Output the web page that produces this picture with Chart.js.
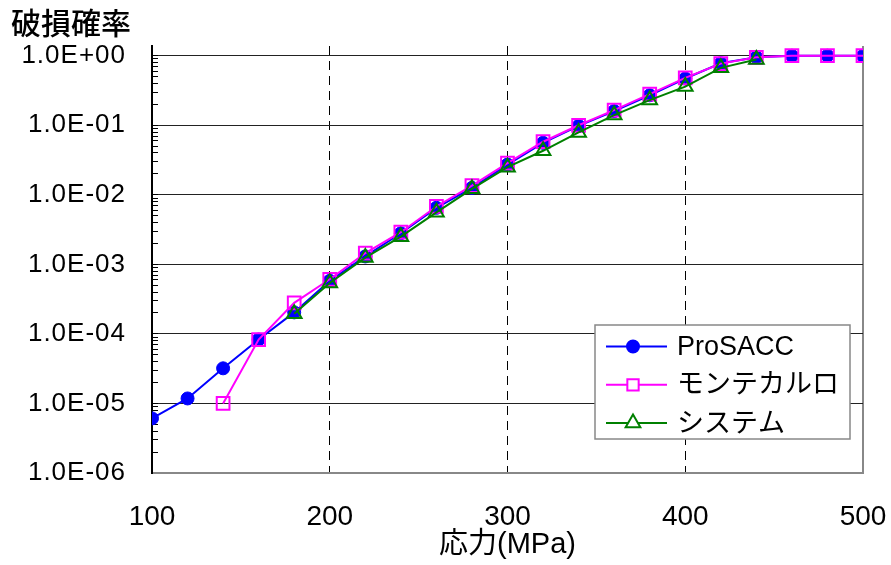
<!DOCTYPE html>
<html lang="ja">
<head>
<meta charset="utf-8">
<title>破損確率</title>
<script src="https://cdn.jsdelivr.net/npm/chart.js@4.4.1/dist/chart.umd.min.js"></script>
<style>
  html, body { margin: 0; padding: 0; background: #fff; }
  #wrap { width: 891px; height: 565px; }
</style>
</head>
<body>
<div id="wrap"><canvas id="probChart" width="891" height="565"></canvas></div>
<script>
// stress levels (MPa)
const stress = [100, 120, 140, 160, 180, 200, 220, 240, 260, 280, 300,
                320, 340, 360, 380, 400, 420, 440, 460, 480, 500];

// failure probability per method (null = not computed)
const proSACC = [6.1e-6, 1.18e-5, 3.2e-5, 8.3e-5, 2.04e-4, 5.8e-4, 1.3e-3, 2.8e-3, 6.5e-3, 1.26e-2, 2.72e-2,
                 5.6e-2, 9.8e-2, 0.16, 0.27, 0.47, 0.78, 0.95, 1.0, 1.0, 1.0];
const monteCarlo = [null, null, 1.0e-5, 8.3e-5, 2.8e-4, 6.1e-4, 1.45e-3, 2.9e-3, 6.8e-3, 1.36e-2, 2.85e-2,
                    5.8e-2, 0.1, 0.165, 0.28, 0.48, 0.77, 0.95, 1.0, 1.0, 1.0];
const systemProb = [null, null, null, null, 1.95e-4, 5.4e-4, 1.25e-3, 2.5e-3, 5.6e-3, 1.22e-2, 2.5e-2,
                    4.3e-2, 7.9e-2, 0.14, 0.23, 0.36, 0.67, 0.88, null, null, null];

const seriesNames = ['ProSACC', 'モンテカルロ', 'システム'];

// axis ticks
const xTicks = [100, 200, 300, 400, 500];
const yExponents = [-6, -5, -4, -3, -2, -1, 0];
const yTickLabels = ['1.0E-06', '1.0E-05', '1.0E-04', '1.0E-03', '1.0E-02', '1.0E-01', '1.0E+00'];
const yMin = 1e-6;
const yMax = 1.38;

const toPoints = (arr) => stress.map((x, i) => ({ x, y: arr[i] }));

// log axis whose labels are drawn with a little extra letter spacing
const LogScale = Chart.registry.getScale('logarithmic');
class WideLogScale extends LogScale {
  drawLabels(area) {
    this.ctx.save();
    this.ctx.letterSpacing = '1px';
    super.drawLabels(area);
    this.ctx.restore();
  }
}
WideLogScale.id = 'wideLog';
WideLogScale.defaults = LogScale.defaults;
Chart.register(WideLogScale);

const isDecade = (v) => Math.abs(Math.log10(v) - Math.round(Math.log10(v))) < 1e-9;

// legend box with line + marker samples, sitting inside the plot
const lineLegend = {
  id: 'lineLegend',
  afterDatasetsDraw(chart, args, opts) {
    const { ctx, chartArea } = chart;
    const x0 = chartArea.right - opts.offsetRight;
    const y0 = chartArea.bottom - opts.offsetBottom;
    ctx.save();
    ctx.fillStyle = '#fff';
    ctx.fillRect(x0, y0, opts.width, opts.height);
    ctx.lineWidth = 1.5;
    ctx.strokeStyle = '#888';
    ctx.strokeRect(x0, y0, opts.width, opts.height);
    ctx.font = opts.font;
    ctx.textBaseline = 'middle';
    ctx.textAlign = 'left';
    chart.data.datasets.forEach((ds, i) => {
      const cy = y0 + opts.firstRow + i * opts.rowGap;
      ctx.strokeStyle = ds.borderColor;
      ctx.lineWidth = 2;
      ctx.beginPath();
      ctx.moveTo(x0 + 11, cy);
      ctx.lineTo(x0 + 72, cy);
      ctx.stroke();
      ctx.fillStyle = ds.pointStyle === 'circle' ? ds.borderColor : '#fff';
      Chart.helpers.drawPoint(ctx, { pointStyle: ds.pointStyle, radius: opts.markerRadius[i], borderWidth: 2 }, x0 + 38, cy);
      ctx.fillStyle = '#000';
      ctx.fillText(ds.label, x0 + 82, cy + 1);
    });
    ctx.restore();
  }
};

Chart.defaults.color = '#000';
Chart.defaults.font.family = '"Liberation Sans", "Noto Sans CJK JP", sans-serif';

const ctx = document.getElementById('probChart').getContext('2d');
new Chart(ctx, {
  type: 'line',
  data: {
    datasets: [{
      label: seriesNames[0],
      data: toPoints(proSACC),
      borderColor: '#0000ff',
      backgroundColor: '#0000ff',
      pointStyle: 'circle',
      pointRadius: 6.5,
      pointBorderWidth: 1,
      borderWidth: 2,
      order: 2
    }, {
      label: seriesNames[1],
      data: toPoints(monteCarlo),
      borderColor: '#ff00ff',
      backgroundColor: 'rgba(0,0,0,0)',
      pointStyle: 'rect',
      pointRadius: 9,
      pointBorderWidth: 2,
      borderWidth: 2,
      order: 1
    }, {
      label: seriesNames[2],
      data: toPoints(systemProb),
      borderColor: '#008000',
      backgroundColor: 'rgba(0,0,0,0)',
      pointStyle: 'triangle',
      pointRadius: 8.5,
      pointBorderWidth: 2,
      borderWidth: 2,
      order: 0
    }]
  },
  options: {
    responsive: false,
    animation: false,
    devicePixelRatio: 1,
    layout: { padding: { left: 11, top: 0, right: 0, bottom: 0 } },
    plugins: {
      legend: { display: false },
      tooltip: { enabled: false },
      title: {
        display: true,
        text: '破損確率',
        align: 'start',
        color: '#000',
        font: { size: 30, weight: 500, lineHeight: 1.2, family: '"Noto Sans CJK JP", sans-serif' },
        padding: { top: 5, bottom: 5 }
      },
      lineLegend: {
        offsetRight: 268, offsetBottom: 148, width: 255, height: 114,
        firstRow: 21.5, rowGap: 38.3,
        markerRadius: [6, 8, 8.5],
        font: '27px "Liberation Sans", "Noto Sans CJK JP", sans-serif'
      }
    },
    scales: {
      x: {
        type: 'linear',
        min: 100,
        max: 500,
        afterBuildTicks: (scale) => { scale.ticks = xTicks.map(v => ({ value: v })); },
        afterFit: (scale) => { scale.height = 92; scale.paddingLeft = 0; scale.paddingRight = 28; },
        ticks: { font: { size: 28 }, padding: 27, color: '#000', autoSkip: false, maxRotation: 0 },
        grid: {
          drawTicks: false,
          color: (c) => {
            if (!c.tick) return 'rgba(0,0,0,0)';
            if (c.tick.value === 500) return '#888';
            if (c.tick.value === 100) return 'rgba(0,0,0,0)';
            return '#000';
          },
          lineWidth: (c) => (c.tick && c.tick.value === 500 ? 2 : 1)
        },
        border: {
          color: '#888',
          width: 2,
          dash: (c) => (c.tick && c.tick.value !== 500 ? [9, 6] : [])
        },
        title: {
          display: true,
          text: '応力(MPa)',
          color: '#000',
          font: { size: 29, lineHeight: 1.2 },
          padding: { top: 0, bottom: 3 }
        }
      },
      y: {
        type: 'wideLog',
        min: yMin,
        max: yMax,
        afterBuildTicks: (scale) => {
          const ticks = [];
          yExponents.forEach(e => {
            for (let m = 1; m <= 9; m++) {
              const v = m * Math.pow(10, e);
              if (v <= scale.max) ticks.push({ value: v, major: m === 1 });
            }
          });
          scale.ticks = ticks;
        },
        afterFit: (scale) => { scale.width = 141; scale.paddingTop = 0; scale.paddingBottom = 0; },
        ticks: {
          autoSkip: false,
          font: { size: 26 },
          color: '#000',
          padding: 32,
          major: { enabled: false },
          callback: (value) => {
            if (!isDecade(value)) return '';
            const k = yExponents.indexOf(Math.round(Math.log10(value)));
            return k >= 0 ? yTickLabels[k] : '';
          }
        },
        grid: {
          tickLength: -6,
          color: (c) => (c.tick && isDecade(c.tick.value) ? '#222' : 'rgba(0,0,0,0)'),
          tickColor: '#000',
          lineWidth: 1
        },
        border: { color: '#000', width: 2 }
      }
    }
  },
  plugins: [lineLegend]
});
</script>
</body>
</html>
